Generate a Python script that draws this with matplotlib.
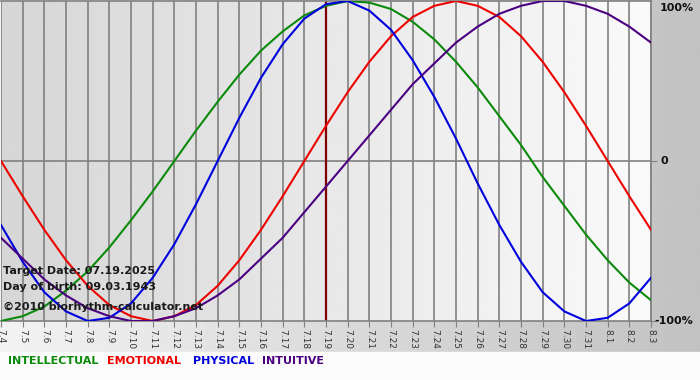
import matplotlib.pyplot as plt
import numpy as np

# biorhythm values per day, 7.4 .. 8.3
dates = ['7.4', '7.5', '7.6', '7.7', '7.8', '7.9', '7.10', '7.11', '7.12', '7.13',
         '7.14', '7.15', '7.16', '7.17', '7.18', '7.19', '7.20', '7.21', '7.22',
         '7.23', '7.24', '7.25', '7.26', '7.27', '7.28', '7.29', '7.30', '7.31',
         '8.1', '8.2', '8.3']
physical = [-0.40, -0.63, -0.82, -0.94, -1.00, -0.98, -0.89, -0.73, -0.52, -0.27,
            0.00, 0.27, 0.52, 0.73, 0.89, 0.98, 1.00, 0.94, 0.82, 0.63, 0.40, 0.14,
            -0.14, -0.40, -0.63, -0.82, -0.94, -1.00, -0.98, -0.89, -0.73]
emotional = [0.00, -0.22, -0.43, -0.62, -0.78, -0.90, -0.97, -1.00, -0.97, -0.90,
             -0.78, -0.62, -0.43, -0.22, 0.00, 0.22, 0.43, 0.62, 0.78, 0.90, 0.97,
             1.00, 0.97, 0.90, 0.78, 0.62, 0.43, 0.22, 0.00, -0.22, -0.43]
intellectual = [-1.00, -0.97, -0.91, -0.81, -0.69, -0.54, -0.37, -0.19, 0.00, 0.19,
                0.37, 0.54, 0.69, 0.81, 0.91, 0.97, 1.00, 0.99, 0.95, 0.87, 0.76,
                0.62, 0.46, 0.28, 0.10, -0.10, -0.28, -0.46, -0.62, -0.76, -0.87]
intuitive = [-0.48, -0.61, -0.74, -0.84, -0.92, -0.97, -1.00, -1.00, -0.97, -0.92,
             -0.84, -0.74, -0.61, -0.48, -0.32, -0.16, 0.00, 0.16, 0.32, 0.48, 0.61,
             0.74, 0.84, 0.92, 0.97, 1.00, 1.00, 0.97, 0.92, 0.84, 0.74]
target_idx = 15
info = ['Target Date: 07.19.2025', 'Day of birth: 09.03.1943',
        '\u00a92010 biorhythm-calculator.net']
legend_names = ['INTELLECTUAL', 'EMOTIONAL', 'PHYSICAL', 'INTUITIVE']
colors = ['#0a8a0a', '#ee0000', '#0000dd', '#4b0082']

plt.rcParams['font.family'] = 'DejaVu Sans'

W, H = 700, 380
fig = plt.figure(figsize=(W / 100, H / 100), dpi=100)

# figure background: gradient, white legend strip at the bottom
bg = fig.add_axes([0, 0, 1, 1], zorder=-10)
grad = np.linspace(0.95, 0.76, 256)[None, :]
bg.imshow(grad, cmap='gray', vmin=0, vmax=1, aspect='auto',
          extent=[0, 1, 28 / H, 1])
bg.axhspan(0, 28 / H, color='#fbfbfb')
bg.set_xlim(0, 1)
bg.set_ylim(0, 1)
bg.axis('off')

ax = fig.add_axes([1 / W, 59 / H, 650 / W, 320 / H])
x = np.arange(len(dates))
pg = np.linspace(0.84, 0.98, 256)[None, :]
ax.imshow(pg, cmap='gray', vmin=0, vmax=1, aspect='auto',
          extent=[0, len(dates) - 1, -1, 1], zorder=0)

for xi in x:
    ax.axvline(xi, color='#808080', lw=1.2, zorder=1)
ax.axhline(0, color='#808080', lw=1.2, zorder=1)

ax.plot(x, intellectual, color=colors[0], lw=1.5, zorder=3)
ax.plot(x, emotional, color=colors[1], lw=1.5, zorder=3)
ax.plot(x, physical, color=colors[2], lw=1.5, zorder=3)
ax.plot(x, intuitive, color=colors[3], lw=1.5, zorder=3)
ax.axvline(target_idx, color='#800000', lw=1.6, zorder=2)

ax.set_xlim(0, len(dates) - 1)
ax.set_ylim(-1, 1)
ax.set_xticks(x)
ax.set_xticklabels(dates, rotation=270, fontsize=6.5, color='#333333')
ax.tick_params(axis='x', length=4, color='#808080', pad=2)
ax.yaxis.tick_right()
ax.set_yticks([-1, 0])
ax.set_yticklabels([])
ax.tick_params(axis='y', length=4, color='#808080')
for s in ax.spines.values():
    s.set_color('#808080')
    s.set_linewidth(1.2)
ax.spines['left'].set_visible(False)

yt = ax.get_yaxis_transform()
ax.text(1.014, 0.99, '100%', transform=yt, fontsize=8, weight='bold',
        color='#111111', va='top', ha='left')
ax.text(1.014, 0, '0', transform=yt, fontsize=8, weight='bold',
        color='#111111', va='center', ha='left')
ax.text(1.005, -1, '-100%', transform=yt, fontsize=8, weight='bold',
        color='#111111', va='center', ha='left')

for txt, ypix in zip(info, [271, 287, 307]):
    fig.text(3 / W, 1 - ypix / H, txt, fontsize=8, weight='bold',
             color='#1a1a1a', va='center', ha='left')

xpos = [8, 107, 193, 262]
for name, c, xp in zip(legend_names, colors, xpos):
    fig.text(xp / W, 1 - 361 / H, name, fontsize=8, weight='bold',
             color=c, va='center', ha='left')

fig.savefig('out.png', dpi=100)
